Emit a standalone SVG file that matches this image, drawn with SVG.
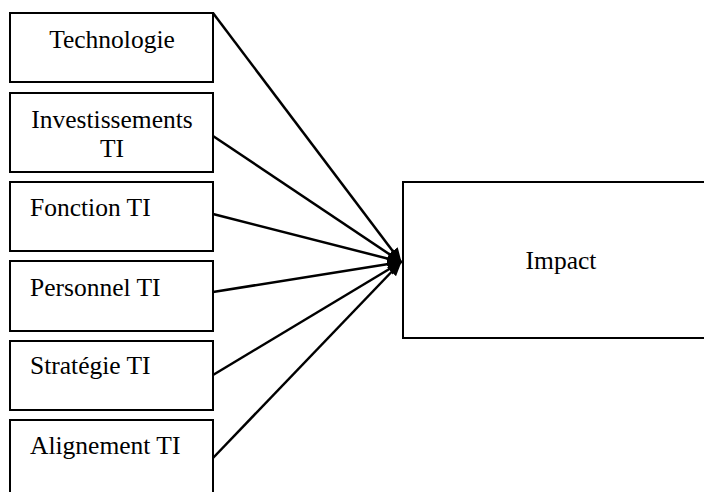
<svg xmlns="http://www.w3.org/2000/svg" width="704" height="492" viewBox="0 0 704 492">
  <style>
    .box { fill: #ffffff; stroke: #000000; stroke-width: 2; }
    .lbl { font-family: "Liberation Serif", "Times New Roman", serif; font-size: 25.5px; fill: #000000; }
    .mid { text-anchor: middle; }
    .link { stroke: #000000; stroke-width: 2.5; fill: none; marker-end: url(#head); }
  </style>
  <defs>
    <marker id="head" viewBox="0 0 12 10" refX="11" refY="5" markerWidth="6" markerHeight="5.5" orient="auto" markerUnits="strokeWidth">
      <path d="M0,0 L12,5 L0,10 Z" fill="#000000"/>
    </marker>
  </defs>
  <rect width="704" height="492" fill="#ffffff"/>

  <g id="technologie">
    <rect class="box" x="10" y="13" width="203" height="69"/>
    <text class="lbl mid" x="112" y="48">Technologie</text>
  </g>
  <g id="investissements">
    <rect class="box" x="10" y="93" width="203" height="79"/>
    <text class="lbl mid" x="112" y="128">Investissements</text>
    <text class="lbl mid" x="112" y="157">TI</text>
  </g>
  <g id="fonction">
    <rect class="box" x="10" y="182" width="203" height="69"/>
    <text class="lbl" x="30" y="216">Fonction TI</text>
  </g>
  <g id="personnel">
    <rect class="box" x="10" y="261" width="203" height="70"/>
    <text class="lbl" x="30" y="296">Personnel TI</text>
  </g>
  <g id="strategie">
    <rect class="box" x="10" y="341" width="203" height="69"/>
    <text class="lbl" x="30" y="374">Stratégie TI</text>
  </g>
  <g id="alignement">
    <rect class="box" x="10" y="420" width="203" height="80"/>
    <text class="lbl" x="30" y="454">Alignement TI</text>
  </g>
  <g id="impact">
    <rect class="box" x="403" y="182" width="310" height="156"/>
    <text class="lbl mid" x="561" y="269">Impact</text>
  </g>

  <g id="connectors">
    <line class="link" x1="213" y1="13" x2="401" y2="262"/>
    <line class="link" x1="213" y1="136" x2="401" y2="262"/>
    <line class="link" x1="213" y1="214" x2="401" y2="262"/>
    <line class="link" x1="213" y1="292" x2="401" y2="262"/>
    <line class="link" x1="213" y1="375" x2="401" y2="262"/>
    <line class="link" x1="213" y1="458" x2="401" y2="262"/>
  </g>
</svg>
